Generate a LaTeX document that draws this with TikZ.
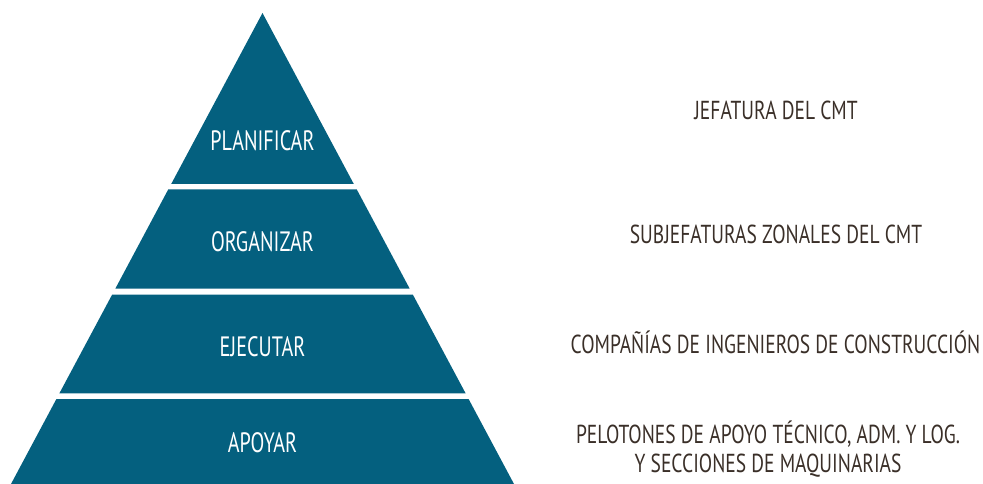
\documentclass[tikz,border=0pt]{standalone}
\usepackage{fontspec}
\setmainfont[FakeStretch=0.72]{PT Sans}
\newfontfamily\rolefont[FakeStretch=0.75]{PT Sans}
\definecolor{pyr}{HTML}{04607F}
\definecolor{txt}{HTML}{3A2F28}
\begin{document}
\begin{tikzpicture}[x=1pt,y=-1pt,
 band/.style={fill=pyr},
 lvl/.style={text=white,font=\fontsize{28}{32}\selectfont,inner sep=0,anchor=base},
 role/.style={text=txt,font=\rolefont\fontsize{26}{29}\selectfont,align=center,inner sep=0,anchor=base}]
\useasboundingbox (0,0) rectangle (983,484);
\fill[band] (262.5,13) -- (353.8,184) -- (171.2,184) -- cycle;
\fill[band] (168.2,189.5) -- (356.8,189.5) -- (409.6,288.5) -- (115.4,288.5) -- cycle;
\fill[band] (112.2,294.5) -- (412.8,294.5) -- (465.6,393.3) -- (59.4,393.3) -- cycle;
\fill[band] (56.4,399) -- (468.6,399) -- (514.0,484) -- (11.0,484) -- cycle;
\node[lvl] (l1) at (262.5,150) {PLANIFICAR};
\node[lvl] (l2) at (262.5,251.7) {ORGANIZAR};
\node[lvl] (l3) at (262.5,356.7) {EJECUTAR};
\node[lvl] (l4) at (262.5,452) {APOYAR};
\node[role] (r1) at (776,119.3) {JEFATURA DEL CMT};
\node[role] (r2) at (776,243.3) {SUBJEFATURAS ZONALES DEL CMT};
\node[role] (r3) at (775.5,353) {COMPAÑÍAS DE INGENIEROS DE CONSTRUCCIÓN};
\node[role] (r4) at (768,472) {PELOTONES DE APOYO TÉCNICO, ADM. Y LOG.\\Y SECCIONES DE MAQUINARIAS};
\end{tikzpicture}
\end{document}
